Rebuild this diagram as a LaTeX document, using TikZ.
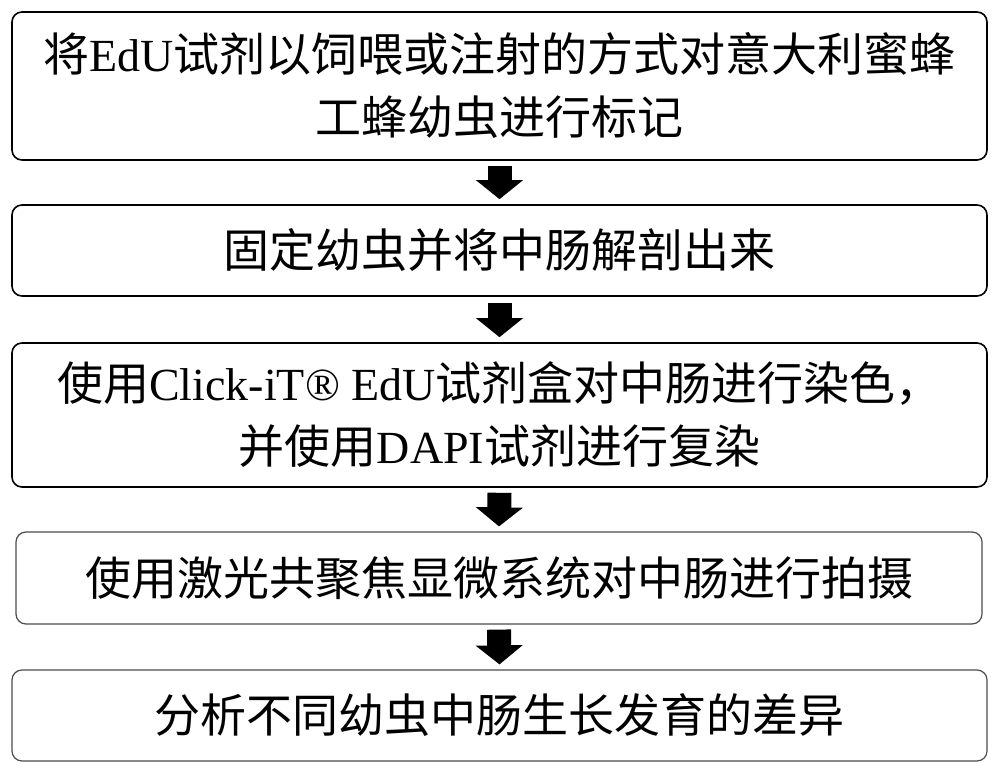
\documentclass[tikz,border=0pt]{standalone}
\usepackage{fontspec}
\setmainfont{Noto Sans CJK SC}
\newfontfamily\lat{Liberation Serif}
\usetikzlibrary{arrows.meta}
\tikzset{
  box/.style={draw=black, line width=1.6pt, rounded corners=10pt, inner sep=0pt,
    align=center, font=\fontsize{46}{63}\selectfont},
  lightbox/.style={box, draw=black!70, line width=1.2pt},
  flow/.style={line width=24pt, draw=black, -{Triangle[width=46pt,length=19pt]}}
}
\begin{document}
\begin{tikzpicture}[x=1pt,y=-1pt]
\useasboundingbox[fill=white] (0,0) rectangle (1000,775);
\node[box, minimum width=975pt, minimum height=148pt] (b1) at (499.5,86)
  {将{\lat EdU}试剂以饲喂或注射的方式对意大利蜜蜂\\工蜂幼虫进行标记};
\node[box, minimum width=975pt, minimum height=91pt] (b2) at (499.5,250.5)
  {固定幼虫并将中肠解剖出来};
\node[box, minimum width=975pt, minimum height=144pt] (b3) at (499.5,415)
  {使用{\lat Click-iT® EdU}试剂盒对中肠进行染色，\\并使用{\lat DAPI}试剂进行复染};
\node[lightbox, minimum width=966pt, minimum height=92pt] (b4) at (499,578)
  {使用激光共聚焦显微系统对中肠进行拍摄};
\node[lightbox, minimum width=975pt, minimum height=91pt] (b5) at (499.5,715.5)
  {分析不同幼虫中肠生长发育的差异};
\draw[flow] ([yshift=-5pt]b1.south) -- ([yshift=5pt]b2.north);
\draw[flow] ([yshift=-6pt]b2.south) -- ([yshift=5pt]b3.north);
\draw[flow] ([yshift=-5pt]b3.south) -- ([yshift=5pt]b4.north);
\draw[flow] ([yshift=-5pt]b4.south) -- ([yshift=5pt]b5.north);
\end{tikzpicture}
\end{document}
